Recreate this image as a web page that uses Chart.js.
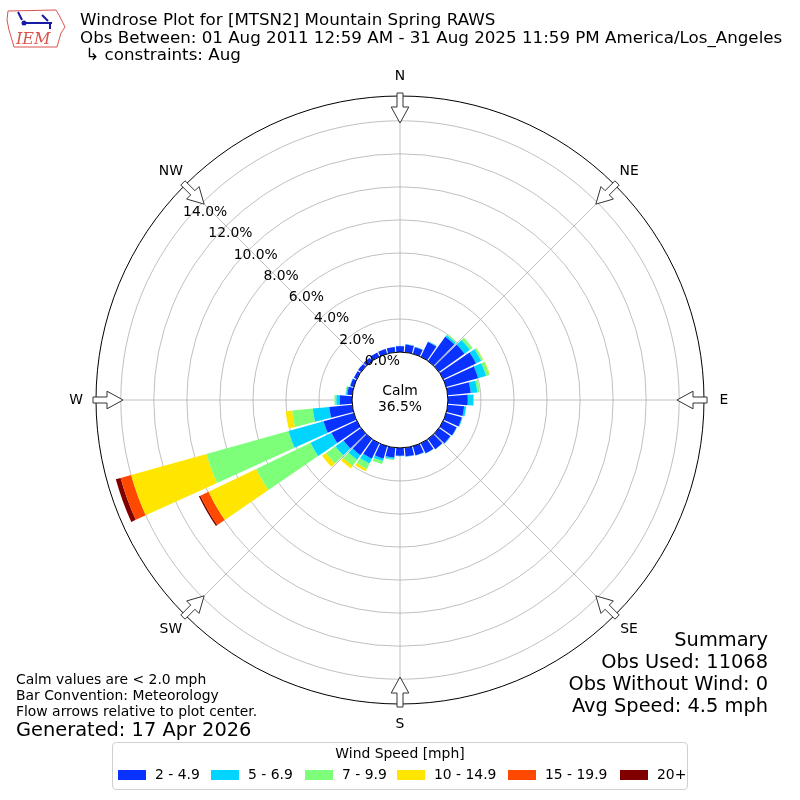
<!DOCTYPE html>
<html>
<head>
<meta charset="utf-8">
<title>Windrose MTSN2</title>
<script src="https://cdn.jsdelivr.net/npm/chart.js@4.4.1/dist/chart.umd.min.js"></script>
<style>
  html, body { margin: 0; padding: 0; background: #fff; }
  #wrap { position: relative; width: 800px; height: 800px; overflow: hidden; font-family: "DejaVu Sans", sans-serif; color: #000; }
  #rose { position: absolute; left: 0; top: 0; }
  .txt { position: absolute; white-space: nowrap; line-height: 1; }
  .right { text-align: right; right: 32px; }
  #legend { position: absolute; left: 112px; top: 742px; width: 574px; height: 46px; border: 1px solid #d0d0d0; border-radius: 4px; }
  .sw { position: absolute; width: 28px; height: 10px; top: 27px; }
</style>
</head>
<body>
<div id="wrap">
  <canvas id="rose" width="800" height="800"></canvas>

  <div class="txt" style="left:80px; top:11px; font-size:16.7px;">Windrose Plot for [MTSN2] Mountain Spring RAWS</div>
  <div class="txt" style="left:80px; top:28.5px; font-size:16.7px;">Obs Between: 01 Aug 2011 12:59 AM - 31 Aug 2025 11:59 PM America/Los_Angeles</div>
  <div class="txt" style="left:80px; top:46px; font-size:16.7px;">&nbsp;↳ constraints: Aug</div>

  <div class="txt" style="left:16px; top:673px; font-size:13.9px;">Calm values are &lt; 2.0 mph</div>
  <div class="txt" style="left:16px; top:689px; font-size:13.9px;">Bar Convention: Meteorology</div>
  <div class="txt" style="left:16px; top:705px; font-size:13.9px;">Flow arrows relative to plot center.</div>
  <div class="txt" style="left:16px; top:720px; font-size:19.4px;">Generated: 17 Apr 2026</div>

  <div class="txt right" style="top:630px; font-size:19.4px;">Summary</div>
  <div class="txt right" style="top:652px; font-size:19.4px;">Obs Used: 11068</div>
  <div class="txt right" style="top:674px; font-size:19.4px;">Obs Without Wind: 0</div>
  <div class="txt right" style="top:696px; font-size:19.4px;">Avg Speed: 4.5 mph</div>

  <div id="legend"></div>
</div>

<script>
// direction of each bar, degrees clockwise from north
const directions = [0, 10, 20, 30, 40, 50, 60, 70, 80, 90, 100, 110, 120, 130, 140, 150, 160, 170,
                    180, 190, 200, 210, 220, 230, 240, 250, 260, 270, 280, 290, 300, 310, 320, 330, 340, 350];
const compassLabels = ['N', 'NE', 'E', 'SE', 'S', 'SW', 'W', 'NW'];
const speedBins = ['2 - 4.9', '5 - 6.9', '7 - 9.9', '10 - 14.9', '15 - 19.9', '20+'];
const binColors = ['#0a32ff', '#00d4ff', '#7dff7a', '#ffe600', '#ff4800', '#800000'];
const tickValues = [0, 2, 4, 6, 8, 10, 12, 14];
const calmPct = 36.5;

// percent of observations per direction for each speed bin
const spd2to5 = [0.36, 0.47, 0.42, 1.00, 1.80, 1.90, 2.20, 2.00, 1.40, 1.20, 1.00, 0.98,
                 0.90, 0.85, 0.76, 0.68, 0.58, 0.53, 0.47, 0.60, 0.78, 1.04, 1.20, 1.30,
                 1.70, 1.90, 1.40, 0.75, 0.30, 0.22, 0.20, 0.22, 0.25, 0.28, 0.30, 0.33];
const spd5to7 = [0.02, 0.03, 0.03, 0.05, 0.12, 0.40, 0.35, 0.50, 0.40, 0.33, 0.12, 0.05,
                 0.03, 0.03, 0.02, 0.02, 0.02, 0.02, 0.03, 0.10, 0.15, 0.32, 0.35, 0.60,
                 1.40, 2.20, 1.00, 0.20, 0.08, 0.03, 0, 0, 0, 0, 0, 0];
const spd7to10 = [0, 0, 0, 0, 0.08, 0.20, 0.12, 0.20, 0.15, 0.05, 0, 0,
                  0, 0, 0, 0, 0, 0, 0, 0.06, 0.20, 0.37, 0.45, 0.70,
                  3.65, 5.16, 1.25, 0.12, 0.05, 0, 0, 0, 0, 0, 0, 0];
const spd10to15 = [0, 0, 0, 0, 0, 0, 0.03, 0.05, 0, 0, 0, 0,
                   0, 0, 0, 0, 0, 0, 0, 0, 0, 0.16, 0.20, 0.30,
                   3.20, 4.74, 0.40, 0, 0, 0, 0, 0, 0, 0, 0, 0];
const spd15to20 = [0, 0, 0, 0, 0, 0, 0, 0, 0, 0, 0, 0,
                   0, 0, 0, 0, 0, 0, 0, 0, 0, 0, 0, 0,
                   0.55, 0.66, 0, 0, 0, 0, 0, 0, 0, 0, 0, 0];
const spd20up = [0, 0, 0, 0, 0, 0, 0, 0, 0, 0, 0, 0,
                 0, 0, 0, 0, 0, 0, 0, 0, 0, 0, 0, 0,
                 0.10, 0.30, 0, 0, 0, 0, 0, 0, 0, 0, 0, 0];

// radial axis limits (negative min leaves room for the calm circle)
const rMin = -2.9;
const rMax = 15.5;
const barWidth = 8.8;   // degrees
const gapWidth = 1.2;

const bins = [spd2to5, spd5to7, spd7to10, spd10to15, spd15to20, spd20up];
const cumulative = [];
let running = directions.map(() => 0);
bins.forEach(b => {
    running = running.map((v, i) => v + b[i]);
    cumulative.push(running);
});

// each direction is a bar followed by a thin empty slot
const sectorLabels = [];
directions.forEach(d => { sectorLabels.push(d + '°'); sectorLabels.push(''); });

const datasets = bins.map((b, k) => {
    const data = [];
    directions.forEach((d, i) => {
        data.push(b[i] > 0 ? cumulative[k][i] : rMin);
        data.push(rMin);
    });
    return {
        label: speedBins[k],
        data: data,
        backgroundColor: ctx => ctx.dataIndex % 2 ? 'rgba(0,0,0,0)' : binColors[k],
        borderWidth: 0,
        angle: ctx => ctx.dataIndex % 2 ? gapWidth : barWidth
    };
});

const FONT = '"DejaVu Sans", sans-serif';

function polar(scale, deg, r) {
    const a = deg * Math.PI / 180;
    return [scale.xCenter + r * Math.sin(a), scale.yCenter - r * Math.cos(a)];
}

function drawArrow(ctx, scale, deg) {
    const a = deg * Math.PI / 180;
    const ux = Math.sin(a), uy = -Math.cos(a);
    const nx = Math.cos(a), ny = Math.sin(a);
    const shape = [[307, -3], [293, -3], [293, -8.8], [277, 0], [293, 8.8], [293, 3], [307, 3]];
    ctx.beginPath();
    shape.forEach(([r, w], i) => {
        const x = scale.xCenter + ux * r + nx * w;
        const y = scale.yCenter + uy * r + ny * w;
        if (i === 0) ctx.moveTo(x, y); else ctx.lineTo(x, y);
    });
    ctx.closePath();
    ctx.fillStyle = '#fff';
    ctx.fill();
    ctx.strokeStyle = '#333';
    ctx.lineWidth = 1;
    ctx.stroke();
}

function drawLogo(ctx) {
    ctx.save();
    ctx.strokeStyle = '#d9534f';
    ctx.lineWidth = 1;
    ctx.beginPath();
    ctx.moveTo(8, 11); ctx.lineTo(56, 10); ctx.lineTo(59, 15); ctx.lineTo(62, 21);
    ctx.lineTo(65, 27); ctx.lineTo(61, 33); ctx.lineTo(59, 40); ctx.lineTo(57, 47);
    ctx.lineTo(14, 47); ctx.lineTo(12, 40); ctx.lineTo(9, 30); ctx.lineTo(7, 20);
    ctx.closePath();
    ctx.stroke();
    ctx.strokeStyle = '#1a1aa8';
    ctx.fillStyle = '#1a1aa8';
    ctx.lineWidth = 2;
    ctx.beginPath();
    ctx.moveTo(18, 12); ctx.lineTo(22, 20);
    ctx.moveTo(24, 23); ctx.lineTo(52, 23);
    ctx.moveTo(42, 15); ctx.lineTo(48, 21);
    ctx.moveTo(50, 23); ctx.lineTo(50, 29);
    ctx.stroke();
    ctx.beginPath(); ctx.arc(24, 23, 2.5, 0, Math.PI * 2); ctx.fill();
    ctx.fillStyle = '#d9534f';
    ctx.font = 'italic 16px "DejaVu Serif", serif';
    ctx.textAlign = 'left';
    ctx.textBaseline = 'alphabetic';
    ctx.fillText('IEM', 16, 44);
    ctx.restore();
}

const roseDecor = {
    id: 'roseDecor',
    afterDatasetsUpdate(chart) {
        // turn the wedges into stacked rings
        const scale = chart.scales.r;
        bins.forEach((b, k) => {
            const meta = chart.getDatasetMeta(k);
            meta.data.forEach((arc, j) => {
                if (j % 2) return;
                const i = j / 2;
                if (b[i] <= 0) return;
                const from = k === 0 ? 0 : cumulative[k - 1][i];
                arc.innerRadius = scale.getDistanceFromCenterForValue(from);
            });
        });
    },
    beforeDatasetsDraw(chart) {
        const ctx = chart.ctx;
        const scale = chart.scales.r;
        const outer = scale.drawingArea;
        ctx.save();
        ctx.strokeStyle = '#b0b0b0';
        ctx.lineWidth = 0.8;
        compassLabels.forEach((lab, n) => {
            const [x, y] = polar(scale, n * 45, outer);
            ctx.beginPath();
            ctx.moveTo(scale.xCenter, scale.yCenter);
            ctx.lineTo(x, y);
            ctx.stroke();
        });
        ctx.restore();
    },
    afterDatasetsDraw(chart) {
        const ctx = chart.ctx;
        const scale = chart.scales.r;
        const cx = scale.xCenter, cy = scale.yCenter;
        const outer = scale.drawingArea;
        const r0 = scale.getDistanceFromCenterForValue(0);
        ctx.save();

        // calm circle
        ctx.beginPath();
        ctx.arc(cx, cy, r0, 0, Math.PI * 2);
        ctx.fillStyle = '#fff';
        ctx.fill();
        ctx.strokeStyle = '#000';
        ctx.lineWidth = 1;
        ctx.stroke();

        // outer frame
        ctx.beginPath();
        ctx.arc(cx, cy, outer, 0, Math.PI * 2);
        ctx.stroke();

        compassLabels.forEach((lab, n) => drawArrow(ctx, scale, n * 45));

        ctx.fillStyle = '#000';
        ctx.font = '13.9px ' + FONT;
        ctx.textAlign = 'center';
        ctx.textBaseline = 'middle';
        compassLabels.forEach((lab, n) => {
            const [x, y] = polar(scale, n * 45, outer + 20);
            ctx.fillText(lab, x, y);
        });

        // radial tick labels along the 310 degree line
        tickValues.forEach(v => {
            const [x, y] = polar(scale, 310, scale.getDistanceFromCenterForValue(v));
            ctx.fillText(v.toFixed(1) + '%', x + 19, y - 8);
        });

        ctx.fillText('Calm', cx, cy - 9);
        ctx.fillText(calmPct.toFixed(1) + '%', cx, cy + 7);

        drawLogo(ctx);
        ctx.restore();
    }
};

new Chart(document.getElementById('rose'), {
    type: 'polarArea',
    data: { labels: sectorLabels, datasets: datasets },
    options: {
        responsive: false,
        animation: false,
        events: [],
        layout: { padding: 96 },
        plugins: {
            legend: { display: false },
            tooltip: { enabled: false }
        },
        scales: {
            r: {
                min: rMin,
                max: rMax,
                startAngle: -barWidth / 2,
                afterBuildTicks: s => { s.ticks = tickValues.map(v => ({ value: v })); },
                ticks: { display: false },
                grid: { color: '#b0b0b0', lineWidth: 0.8, circular: true },
                angleLines: { display: false },
                pointLabels: { display: false }
            }
        }
    },
    plugins: [roseDecor]
});

// legend row under the plot
const legendDiv = document.getElementById('legend');
const legendTitle = document.createElement('div');
legendTitle.className = 'txt';
legendTitle.style.cssText = 'left:0; width:574px; text-align:center; top:4px; font-size:13.9px;';
legendTitle.textContent = 'Wind Speed [mph]';
legendDiv.appendChild(legendTitle);
const swatchX = [5, 98, 192, 284, 395, 507];
speedBins.forEach((lab, k) => {
    const sw = document.createElement('div');
    sw.className = 'sw';
    sw.style.left = swatchX[k] + 'px';
    sw.style.background = binColors[k];
    legendDiv.appendChild(sw);
    const t = document.createElement('div');
    t.className = 'txt';
    t.style.cssText = 'top:25px; font-size:13.9px; left:' + (swatchX[k] + 37) + 'px;';
    t.textContent = lab;
    legendDiv.appendChild(t);
});
</script>
</body>
</html>
